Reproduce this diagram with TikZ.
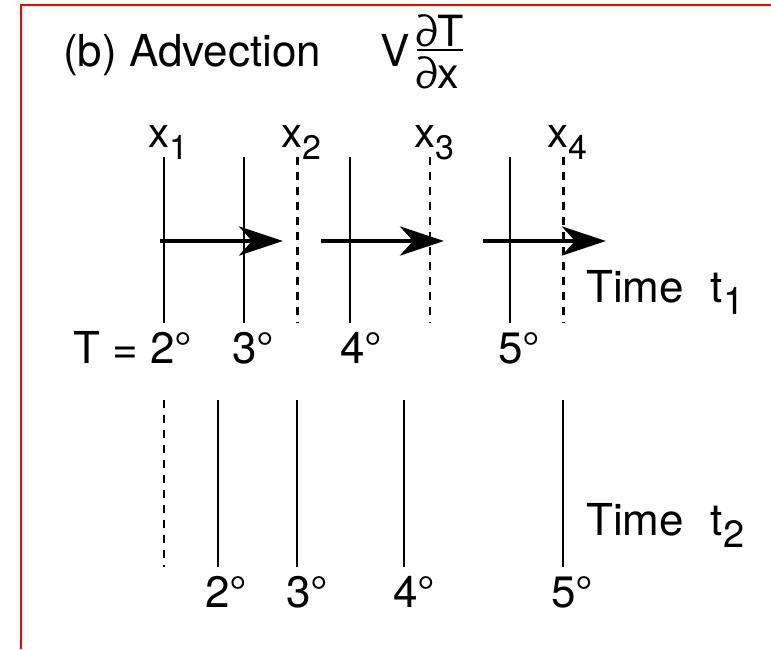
\documentclass[tikz,border=0pt]{standalone}
\usepackage{fontspec}
\setmainfont{TeX Gyre Heros}
\usetikzlibrary{arrows.meta}
\tikzset{
  lbl/.style={anchor=base west, inner sep=0pt, font=\fontsize{44}{50}\selectfont},
  xlbl/.style={anchor=base west, inner sep=0pt, font=\fontsize{42}{48}\selectfont},
  frac/.style={anchor=base, inner sep=0pt, font=\fontsize{43}{48}\selectfont},
  solidline/.style={line width=2.2pt},
  dashline/.style={line width=2.2pt, dash pattern=on 8pt off 7pt},
  flow/.style={line width=4.5pt, -{Stealth[length=44pt,width=29pt,inset=13pt]}},
  frame/.style={red, line width=2pt}
}
\begin{document}
\begin{tikzpicture}[x=1pt,y=-1pt]
\useasboundingbox (0,0) rectangle (771,649);
\fill[white] (0,0) rectangle (771,649);
% frame
\coordinate (fbl) at (20.5,649);
\coordinate (ftl) at (20.5,4.5);
\coordinate (ftr) at (771,4.5);
\draw[frame] (fbl) -- (ftl) -- (ftr);
% title
\node[lbl] (title) at (63,66) {(b) Advection};
\node[lbl] (V) at (380,66) {V};
\node[frac] (dT) at (440,46) {∂T};
\node[frac] (dx) at (438,88) {∂x};
\coordinate (fl) at (417,50);
\coordinate (fr) at (463,50);
\draw[line width=2.5pt] (fl) -- (fr);
% x labels
\node[xlbl] (x1) at (148,147) {x\raisebox{-12pt}{\fontsize{34}{34}\selectfont 1}};
\node[xlbl] (x2) at (281,147) {x\raisebox{-12pt}{\fontsize{34}{34}\selectfont 2}};
\node[xlbl] (x3) at (414,147) {x\raisebox{-12pt}{\fontsize{34}{34}\selectfont 3}};
\node[xlbl] (x4) at (547,147) {x\raisebox{-12pt}{\fontsize{34}{34}\selectfont 4}};
% time t1 lines
\coordinate (a1t) at (164,157); \coordinate (a1b) at (164,323);
\coordinate (a2t) at (244,157); \coordinate (a2b) at (244,323);
\coordinate (a3t) at (297.5,157); \coordinate (a3b) at (297.5,323);
\coordinate (a4t) at (350,157); \coordinate (a4b) at (350,323);
\coordinate (a5t) at (430,157); \coordinate (a5b) at (430,323);
\coordinate (a6t) at (510,157); \coordinate (a6b) at (510,323);
\coordinate (a7t) at (563.5,157); \coordinate (a7b) at (563.5,323);
\draw[solidline] (a1t) -- (a1b);
\draw[solidline] (a2t) -- (a2b);
\draw[dashline] (a3t) -- (a3b);
\draw[solidline] (a4t) -- (a4b);
\draw[dashline] (a5t) -- (a5b);
\draw[solidline] (a6t) -- (a6b);
\draw[dashline] (a7t) -- (a7b);
% arrows
\coordinate (r1s) at (160,241); \coordinate (r1e) at (283,241);
\coordinate (r2s) at (321,241); \coordinate (r2e) at (444,241);
\coordinate (r3s) at (483,241); \coordinate (r3e) at (606,241);
\draw[flow] (r1s) -- (r1e);
\draw[flow] (r2s) -- (r2e);
\draw[flow] (r3s) -- (r3e);
\node[lbl] (time1) at (586,302) {Time\hspace{27pt}t\raisebox{-12pt}{\fontsize{38}{38}\selectfont 1}};
% temperatures t1
\node[lbl] (T2a) at (73,363) {T = 2°};
\node[lbl] (T3a) at (232,363) {3°};
\node[lbl] (T4a) at (340,363) {4°};
\node[lbl] (T5a) at (498,363) {5°};
% time t2 lines
\coordinate (b1t) at (164,400); \coordinate (b1b) at (164,567);
\coordinate (b2t) at (218,400); \coordinate (b2b) at (218,567);
\coordinate (b3t) at (297,400); \coordinate (b3b) at (297,567);
\coordinate (b4t) at (404,400); \coordinate (b4b) at (404,567);
\coordinate (b5t) at (563,400); \coordinate (b5b) at (563,567);
\draw[dashline] (b1t) -- (b1b);
\draw[solidline] (b2t) -- (b2b);
\draw[solidline] (b3t) -- (b3b);
\draw[solidline] (b4t) -- (b4b);
\draw[solidline] (b5t) -- (b5b);
\node[lbl] (time2) at (586,535) {Time\hspace{27pt}t\raisebox{-12pt}{\fontsize{38}{38}\selectfont 2}};
\node[lbl] (T2b) at (205,607) {2°};
\node[lbl] (T3b) at (286,607) {3°};
\node[lbl] (T4b) at (393,607) {4°};
\node[lbl] (T5b) at (551,607) {5°};
\end{tikzpicture}
\end{document}
